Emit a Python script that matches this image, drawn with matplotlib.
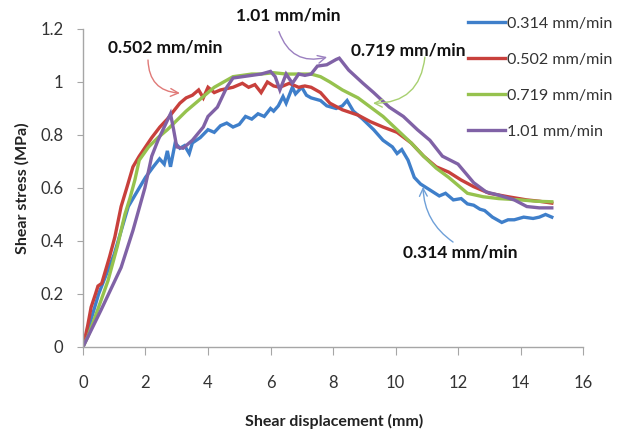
import matplotlib
matplotlib.use('Agg')
import matplotlib.pyplot as plt

plt.rcParams['font.family'] = ['Lato', 'DejaVu Sans']

# shear displacement (mm) / shear stress (MPa)
x_314 = [0, 0.5, 1.0, 1.45, 1.75, 2.0, 2.25, 2.45, 2.6, 2.7,
         2.8, 2.95, 3.1, 3.25, 3.4, 3.5, 3.75, 4.0, 4.2, 4.4,
         4.6, 4.8, 5.0, 5.2, 5.4, 5.6, 5.8, 6.0, 6.1, 6.25,
         6.4, 6.5, 6.7, 6.8, 7.0, 7.15, 7.3, 7.6, 7.8, 8.1,
         8.3, 8.45, 8.65, 8.95, 9.3, 9.6, 9.9, 10.05, 10.2, 10.4,
         10.6, 10.8, 11.0, 11.2, 11.4, 11.6, 11.85, 12.1, 12.3, 12.5,
         12.7, 12.85, 13.1, 13.4, 13.6, 13.8, 14.1, 14.4, 14.6, 14.8,
         15.0]
y_314 = [0, 0.20, 0.35, 0.53, 0.59, 0.64, 0.68, 0.71, 0.69, 0.74,
         0.68, 0.77, 0.75, 0.76, 0.73, 0.77, 0.79, 0.82, 0.81, 0.835,
         0.845, 0.83, 0.84, 0.87, 0.86, 0.88, 0.87, 0.90, 0.89, 0.91,
         0.945, 0.92, 0.98, 0.955, 0.98, 0.95, 0.94, 0.93, 0.91, 0.90,
         0.91, 0.93, 0.89, 0.86, 0.82, 0.78, 0.755, 0.73, 0.745, 0.705,
         0.64, 0.615, 0.60, 0.585, 0.57, 0.58, 0.555, 0.56, 0.54, 0.535,
         0.52, 0.515, 0.49, 0.47, 0.48, 0.48, 0.49, 0.485, 0.49, 0.50,
         0.49]

x_502 = [0, 0.15, 0.26, 0.4, 0.48, 0.6, 0.7, 0.85, 1.02, 1.22,
         1.4, 1.6, 1.8, 2.0, 2.2, 2.46, 2.7, 2.9, 3.1, 3.3,
         3.5, 3.7, 3.85, 4.0, 4.2, 4.4, 4.6, 4.8, 5.1, 5.3,
         5.5, 5.7, 5.9, 6.1, 6.3, 6.6, 6.9, 7.1, 7.3, 7.6,
         7.9, 8.3, 8.8, 9.2, 9.6, 10.05, 10.5, 10.9, 11.3, 11.7,
         12.1, 12.5, 13.0, 13.6, 14.2, 14.6, 15.0]
y_502 = [0, 0.08, 0.15, 0.20, 0.23, 0.24, 0.28, 0.34, 0.415, 0.53,
         0.60, 0.68, 0.72, 0.755, 0.79, 0.83, 0.86, 0.89, 0.92, 0.94,
         0.95, 0.97, 0.94, 0.98, 0.96, 0.97, 0.975, 0.98, 0.995, 0.98,
         0.99, 0.96, 1.0, 0.985, 0.98, 0.995, 0.98, 0.985, 0.98, 0.96,
         0.92, 0.895, 0.875, 0.85, 0.83, 0.81, 0.77, 0.72, 0.68, 0.66,
         0.63, 0.605, 0.58, 0.567, 0.555, 0.55, 0.543]

x_719 = [0, 0.16, 0.5, 0.8, 1.1, 1.34, 1.5, 1.66, 1.8, 2.1,
         2.4, 2.7, 3.0, 3.3, 3.7, 4.0, 4.2, 4.5, 4.8, 5.1,
         5.4, 5.7, 6.1, 6.5, 6.9, 7.3, 7.6, 7.9, 8.3, 8.8,
         9.2, 9.6, 10.05, 10.5, 10.9, 11.3, 11.7, 12.0, 12.3, 12.8,
         13.3, 14.0, 14.5, 15.0]
y_719 = [0, 0.04, 0.15, 0.25, 0.38, 0.50, 0.56, 0.63, 0.705, 0.755,
         0.79, 0.82, 0.855, 0.89, 0.93, 0.96, 0.98, 1.0, 1.02, 1.025,
         1.03, 1.03, 1.035, 1.03, 1.03, 1.03, 1.02, 1.0, 0.97, 0.94,
         0.905, 0.87, 0.82, 0.77, 0.72, 0.675, 0.64, 0.61, 0.58, 0.567,
         0.56, 0.555, 0.55, 0.548]

x_101 = [0, 0.58, 1.22, 1.6, 1.98, 2.2, 2.4, 2.6, 2.8, 2.9,
         3.0, 3.2, 3.5, 3.85, 4.0, 4.3, 4.6, 4.8, 5.1, 5.4,
         5.7, 6.0, 6.15, 6.3, 6.5, 6.7, 6.9, 7.1, 7.3, 7.5,
         7.8, 8.1, 8.2, 8.5, 8.96, 9.3, 9.8, 10.25, 10.7, 11.1,
         11.5, 12.0, 12.5, 12.9, 13.3, 13.8, 14.2, 14.6, 15.0]
y_101 = [0, 0.14, 0.30, 0.44, 0.60, 0.72, 0.78, 0.83, 0.88, 0.82,
         0.755, 0.75, 0.78, 0.83, 0.87, 0.905, 0.98, 1.015, 1.02, 1.025,
         1.03, 1.04, 1.02, 0.97, 1.03, 0.995, 1.03, 1.025, 1.03, 1.06,
         1.065, 1.085, 1.09, 1.045, 0.995, 0.96, 0.905, 0.87, 0.82, 0.78,
         0.72, 0.69, 0.62, 0.585, 0.573, 0.555, 0.53, 0.525, 0.525]

labels = ['0.314 mm/min', '0.502 mm/min', '0.719 mm/min', '1.01 mm/min']
colors = ['#3f7fca', '#c8403c', '#96c24e', '#8062a6']
arrow_colors = ['#6fa0d8', '#e07a78', '#a8d070', '#9b80c0']

fig = plt.figure(figsize=(6.22, 4.34), dpi=100)
ax = fig.add_axes([0.1334, 0.2005, 0.804, 0.7327])

series = [(x_314, y_314), (x_502, y_502), (x_719, y_719), (x_101, y_101)]
for (xs, ys), lab, c in zip(series, labels, colors):
    ax.plot(xs, ys, color=c, lw=2.4, label=lab, solid_joinstyle='miter')

ax.set_xlim(0, 16)
ax.set_ylim(0, 1.2)
ax.set_xticks(range(0, 17, 2))
ax.set_yticks([0, 0.2, 0.4, 0.6, 0.8, 1.0, 1.2])
ax.set_yticklabels(['0', '0.2', '0.4', '0.6', '0.8', '1', '1.2'])
for s in ['top', 'right']:
    ax.spines[s].set_visible(False)
for s in ['left', 'bottom']:
    ax.spines[s].set_color('#a6a6a6')
    ax.spines[s].set_linewidth(1.0)
ax.tick_params(axis='x', length=6, color='#a6a6a6', pad=14, labelsize=12, labelcolor='#333333')
ax.tick_params(axis='y', length=4, color='#a6a6a6', pad=10, labelsize=12, labelcolor='#333333')

fig.text(0.5365, 0.028, 'Shear displacement (mm)', ha='center', va='center',
         fontsize=11.5, fontweight='bold', color='#222222')
fig.text(0.036, 0.567, 'Shear stress (MPa)', ha='center', va='center', rotation=90,
         fontsize=11.5, fontweight='bold', color='#222222')

leg = ax.legend(loc='upper left', bbox_to_anchor=(0.74, 0.98), bbox_transform=fig.transFigure,
                frameon=False, fontsize=11.6, handlelength=2.3, handletextpad=0.1,
                labelspacing=1.35, borderpad=0)
for t in leg.get_texts():
    t.set_color('#333333')

# callouts
notes = [
    ('0.314 mm/min', (12.06, 0.358), (11.84, 0.396), (10.88, 0.604), -0.25, arrow_colors[0]),
    ('0.502 mm/min', (2.62, 1.132), (2.08, 1.083), (3.1, 0.958), 0.45, arrow_colors[1]),
    ('0.719 mm/min', (10.4, 1.12), (10.94, 1.094), (9.28, 0.92), -0.45, arrow_colors[2]),
    ('1.01 mm/min', (6.56, 1.25), (6.27, 1.19), (7.81, 1.094), 0.45, arrow_colors[3]),
]
for txt, tpos, start, head, rad, ac in notes:
    ax.text(tpos[0], tpos[1], txt, ha='center', va='center', fontsize=12.5,
            fontweight='bold', color='#111111', clip_on=False)
    ax.annotate('', xy=head, xytext=start, annotation_clip=False,
                arrowprops=dict(arrowstyle='->', color=ac, lw=1.0,
                                connectionstyle='arc3,rad=%s' % rad,
                                shrinkA=0, shrinkB=0, mutation_scale=14))

fig.savefig('out.png', dpi=100)
